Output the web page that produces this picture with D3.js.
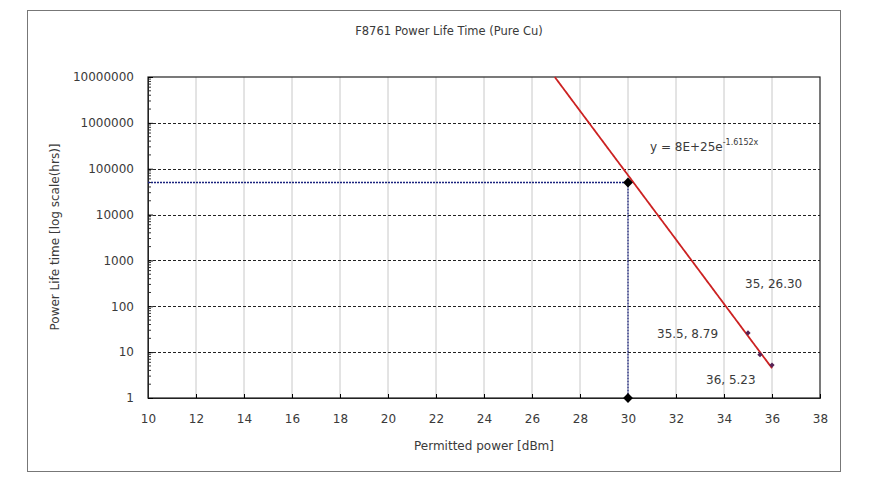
<!DOCTYPE html>
<html><head><meta charset="utf-8">
<script src="https://cdn.jsdelivr.net/npm/d3@7/dist/d3.min.js"></script>
<style>body{margin:0;background:#fff}svg text{font-family:"DejaVu Sans",sans-serif;fill:#3a3a3a}</style>
</head><body><svg id="c" width="876" height="481"></svg>
<script>
const title = "F8761 Power Life Time (Pure Cu)";
const xTicks = [10,12,14,16,18,20,22,24,26,28,30,32,34,36,38];
const yTicks = [1,10,100,1000,10000,100000,1000000,10000000];
const dataX = [35, 35.5, 36];
const dataY = [26.30, 8.79, 5.23];
const dataLabels = ["35, 26.30", "35.5, 8.79", "36, 5.23"];
const fitA = 8e25, fitB = -1.6152;
const fitRange = [26.95, 36];
const refX = [30, 30];
const refY = [50000, 1];

const svg = d3.select("#c");
svg.append("rect").attr("x",27.5).attr("y",10.5).attr("width",813).attr("height",461)
  .attr("fill","#fff").attr("stroke","#777");

const x = d3.scaleLinear().domain([10,38]).range([148,820]);
const y = d3.scaleLog().domain([1,1e7]).range([398,77]);

// vertical grid
svg.append("g").selectAll("line").data(xTicks.slice(1,-1)).join("line")
  .attr("x1",d=>x(d)).attr("x2",d=>x(d)).attr("y1",77).attr("y2",398)
  .attr("stroke","#c8c8c8").attr("stroke-width",1);
// horizontal dashed grid
svg.append("g").selectAll("line").data(yTicks.slice(1,-1)).join("line")
  .attr("x1",148).attr("x2",820).attr("y1",d=>Math.round(y(d))+0.5).attr("y2",d=>Math.round(y(d))+0.5)
  .attr("stroke","#222").attr("stroke-dasharray","3,2").attr("stroke-width",1);

// plot border
svg.append("rect").attr("x",148).attr("y",77).attr("width",672).attr("height",321)
  .attr("fill","none").attr("stroke","#222").attr("stroke-width",1.2);

// axes
const xAxis = d3.axisBottom(x).tickValues(xTicks).tickSize(-4).tickPadding(16);
const gx = svg.append("g").attr("transform","translate(0,398)").call(xAxis);
gx.select(".domain").attr("stroke","#222");
gx.selectAll("text").attr("font-size",12).attr("fill","#3a3a3a");

const minor = [];
for (let e=0;e<7;e++) for (let m=2;m<10;m++) minor.push(m*Math.pow(10,e));
svg.append("g").selectAll("line").data(minor).join("line")
  .attr("x1",148).attr("x2",151).attr("y1",d=>y(d)).attr("y2",d=>y(d)).attr("stroke","#333");
const yAxis = d3.axisLeft(y).tickValues(yTicks).tickFormat(d3.format("d")).tickSize(-5).tickPadding(14);
const gy = svg.append("g").attr("transform","translate(148,0)").call(yAxis);
gy.select(".domain").attr("stroke","#222");
gy.selectAll("text").attr("font-size",12).attr("fill","#3a3a3a");

// reference dotted lines
svg.append("line").attr("x1",x(10)).attr("x2",x(refX[0])).attr("y1",y(refY[0])).attr("y2",y(refY[0]))
  .attr("stroke","#1a237e").attr("stroke-dasharray","2,1").attr("stroke-width",1.3);
svg.append("line").attr("x1",x(refX[0])).attr("x2",x(refX[1])).attr("y1",y(refY[0])).attr("y2",y(refY[1]))
  .attr("stroke","#1a237e").attr("stroke-dasharray","2,1").attr("stroke-width",1.3);

// fit line
const fx = d3.range(fitRange[0], fitRange[1]+0.001, 0.05);
svg.append("path").datum(fx).attr("fill","none").attr("stroke","#cc2222").attr("stroke-width",1.8)
  .attr("d", d3.line().x(d=>x(d)).y(d=>y(fitA*Math.exp(fitB*d))));

// data points
const sq = d3.symbol().type(d3.symbolSquare);
svg.append("g").selectAll("path").data(dataX).join("path")
  .attr("transform",(d,i)=>`translate(${x(d)},${y(dataY[i])}) rotate(45)`)
  .attr("d", sq.size(14)).attr("fill","#552255");
svg.append("g").selectAll("path").data(refX).join("path")
  .attr("transform",(d,i)=>`translate(${x(d)},${y(refY[i])}) rotate(45)`)
  .attr("d", sq.size(48)).attr("fill","#000");

// data labels
const labPos = [[745,288],[657,338],[706,384]];
svg.append("g").selectAll("text").data(dataLabels).join("text")
  .attr("x",(d,i)=>labPos[i][0]).attr("y",(d,i)=>labPos[i][1]).attr("font-size",12).text(d=>d);

// equation
const eq = svg.append("text").attr("x",650).attr("y",151).attr("font-size",12);
eq.append("tspan").text("y  = 8E+25e");
eq.append("tspan").attr("dy",-6).attr("font-size",8).text("-1.6152x");

// titles
svg.append("text").attr("x",449).attr("y",35).attr("text-anchor","middle").attr("font-size",11.5).text(title);
svg.append("text").attr("x",484).attr("y",450).attr("text-anchor","middle").attr("font-size",12).text("Permitted power [dBm]");
svg.append("text").attr("transform","translate(59,237) rotate(-90)").attr("text-anchor","middle")
  .attr("font-size",12).text("Power Life time [log scale(hrs)]");
</script></body></html>
